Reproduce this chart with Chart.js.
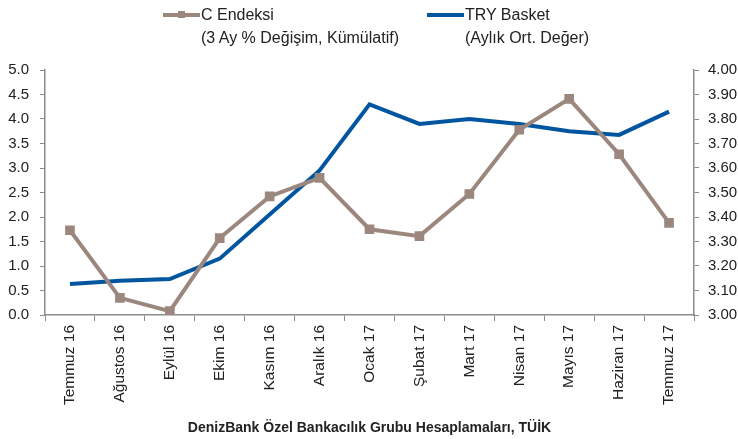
<!DOCTYPE html>
<html lang="tr">
<head>
  <meta charset="UTF-8" />
  <title>C Endeksi ve TRY Basket</title>
  <script src="https://cdn.jsdelivr.net/npm/chart.js"></script>
  <style>
    * { margin: 0; padding: 0; box-sizing: border-box; }
    body { background: #fff; font-family: 'Liberation Sans', sans-serif; color: #222; }
    .wrap { position: relative; width: 738px; height: 439px; }
    .legend { position: absolute; top: 3px; font-size: 16px; line-height: 23px; color: #222; }
    .legend .swatch { position: absolute; left: 0; top: 10px; width: 37px; height: 4px; }
    .legend .txt { padding-left: 38px; }
    .legend .mk { position: absolute; left: 15px; top: 8px; width: 7px; height: 7px; }
  </style>
</head>
<body>
  <div class="wrap">
    <canvas id="chart" width="738" height="439"></canvas>
    <div class="legend" style="left:163px;">
      <div class="swatch" style="background:#9b877d;"></div>
      <div class="mk" style="background:#9b877d;"></div>
      <div class="txt">C Endeksi<br>(3 Ay % Değişim, Kümülatif)</div>
    </div>
    <div class="legend" style="left:427px;">
      <div class="swatch" style="background:#0055a0;"></div>
      <div class="txt">TRY Basket<br>(Aylık Ort. Değer)</div>
    </div>
  </div>

  <script>
    const months = ['Temmuz 16', 'Ağustos 16', 'Eylül 16', 'Ekim 16', 'Kasım 16', 'Aralık 16',
      'Ocak 17', 'Şubat 17', 'Mart 17', 'Nisan 17', 'Mayıs 17', 'Haziran 17', 'Temmuz 17'];
    const cEndeksi = [1.73, 0.35, 0.08, 1.57, 2.42, 2.80, 1.75, 1.61, 2.47, 3.78, 4.41, 3.28, 1.88];
    const tryBasket = [3.127, 3.14, 3.147, 3.23, 3.41, 3.59, 3.86, 3.78, 3.80, 3.78, 3.75, 3.735, 3.83];

    const axisColor = '#8c8c8c';
    const tickFont = { family: 'Liberation Sans', size: 15 };

    new Chart(document.getElementById('chart'), {
      type: 'line',
      data: {
        labels: months,
        datasets: [
          {
            label: 'C Endeksi',
            data: cEndeksi,
            yAxisID: 'yL',
            borderColor: '#9b877d',
            backgroundColor: '#9b877d',
            borderWidth: 4,
            pointStyle: 'rect',
            pointRadius: 4,
            pointHoverRadius: 4,
            tension: 0
          },
          {
            label: 'TRY Basket',
            data: tryBasket,
            yAxisID: 'yR',
            borderColor: '#0055a0',
            backgroundColor: '#0055a0',
            borderWidth: 4,
            pointRadius: 0,
            tension: 0
          }
        ]
      },
      options: {
        responsive: false,
        animation: false,
        layout: { padding: { top: 70, left: 0, right: 0, bottom: 0 } },
        plugins: { legend: { display: false }, tooltip: { enabled: false } },
        scales: {
          x: {
            offset: true,
            grid: { offset: true, drawOnChartArea: false, color: axisColor, tickLength: 6 },
            border: { color: axisColor, width: 1.5 },
            ticks: { color: '#222', font: { family: 'Liberation Sans', size: 15.5 },
              minRotation: 90, maxRotation: 90, autoSkip: false, padding: 4 },
            title: {
              display: true,
              text: 'DenizBank Özel Bankacılık Grubu Hesaplamaları, TÜİK',
              color: '#222',
              font: { family: 'Liberation Sans', size: 14, weight: 'bold' },
              padding: { top: 8, bottom: 2 }
            },
            afterFit: s => { s.height = 124; }
          },
          yL: {
            position: 'left',
            min: 0, max: 5,
            grid: { drawOnChartArea: false, color: axisColor, tickLength: 5 },
            border: { color: axisColor, width: 1.5 },
            ticks: { stepSize: 0.5, color: '#222', font: tickFont, padding: 11,
              callback: v => v.toFixed(1) },
            afterFit: s => { s.width = 45; }
          },
          yR: {
            position: 'right',
            min: 3, max: 4,
            grid: { drawOnChartArea: false, color: axisColor, tickLength: 5 },
            border: { color: axisColor, width: 1.5 },
            ticks: { stepSize: 0.1, color: '#222', font: tickFont, padding: 9,
              callback: v => v.toFixed(2) },
            afterFit: s => { s.width = 44; }
          }
        }
      }
    });
  </script>
</body>
</html>
